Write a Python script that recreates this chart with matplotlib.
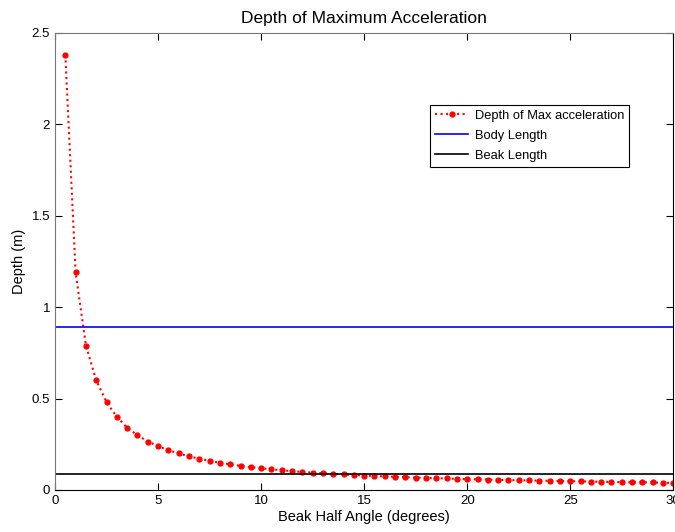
import matplotlib
matplotlib.use("Agg")
import matplotlib.pyplot as plt

plt.rcParams['font.family'] = ['Liberation Sans', 'DejaVu Sans']

# beak half angle (degrees)
angles = [0.5, 1.0, 1.5, 2.0, 2.5, 3.0, 3.5, 4.0, 4.5, 5.0,
          5.5, 6.0, 6.5, 7.0, 7.5, 8.0, 8.5, 9.0, 9.5, 10.0,
          10.5, 11.0, 11.5, 12.0, 12.5, 13.0, 13.5, 14.0, 14.5, 15.0,
          15.5, 16.0, 16.5, 17.0, 17.5, 18.0, 18.5, 19.0, 19.5, 20.0,
          20.5, 21.0, 21.5, 22.0, 22.5, 23.0, 23.5, 24.0, 24.5, 25.0,
          25.5, 26.0, 26.5, 27.0, 27.5, 28.0, 28.5, 29.0, 29.5, 30.0]

# depth of max acceleration (m)
depth = [2.38, 1.19, 0.79, 0.60, 0.48, 0.40, 0.34, 0.30, 0.265, 0.24,
         0.218, 0.20, 0.184, 0.171, 0.159, 0.149, 0.140, 0.132, 0.125, 0.119,
         0.113, 0.108, 0.103, 0.099, 0.095, 0.091, 0.088, 0.085, 0.082, 0.079,
         0.077, 0.074, 0.072, 0.070, 0.068, 0.066, 0.064, 0.063, 0.061, 0.059,
         0.058, 0.057, 0.055, 0.054, 0.053, 0.052, 0.051, 0.050, 0.049, 0.048,
         0.047, 0.046, 0.045, 0.044, 0.043, 0.042, 0.042, 0.041, 0.040, 0.039]

body_length = 0.89
beak_length = 0.09

fig = plt.figure(figsize=(6.75, 5.32), dpi=100)
ax = fig.add_axes([0.0815, 0.079, 0.916, 0.859])

ax.plot(angles, depth, color='red', linestyle=':', linewidth=1.5,
        marker='o', markersize=3.5, label='Depth of Max acceleration')
ax.axhline(body_length, color='blue', linewidth=1.2, label='Body Length')
ax.axhline(beak_length, color='black', linewidth=1.2, label='Beak Length')

ax.set_xlim(0, 30)
ax.set_ylim(0, 2.5)
ax.set_xticks([0, 5, 10, 15, 20, 25, 30])
ax.set_yticks([0, 0.5, 1, 1.5, 2, 2.5])
ax.set_yticklabels(['0', '0.5', '1', '1.5', '2', '2.5'])
ax.tick_params(direction='in', top=True, right=True, labelsize=9.5, length=5)
ax.spines['left'].set_color('#777777')
ax.spines['top'].set_color('#777777')

ax.set_title('Depth of Maximum Acceleration', fontsize=12.5, pad=7)
ax.set_xlabel('Beak Half Angle (degrees)', fontsize=10.5, labelpad=2)
ax.set_ylabel('Depth (m)', fontsize=10.5)

leg = ax.legend(loc='upper left', bbox_to_anchor=(0.606, 0.843), fontsize=9.3,
                fancybox=False, edgecolor='black', framealpha=1,
                handlelength=2.6, handletextpad=0.5, borderaxespad=0,
                labelspacing=0.6)
leg.get_frame().set_linewidth(0.8)

fig.savefig('out.png', dpi=100)
